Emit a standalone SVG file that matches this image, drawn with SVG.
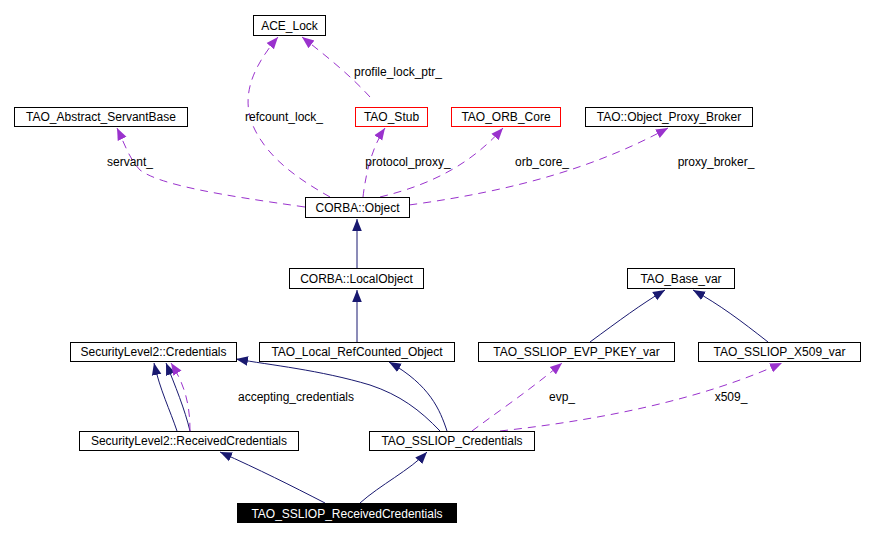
<svg xmlns="http://www.w3.org/2000/svg" width="873" height="537" viewBox="0 0 873 537">
<style>
.n rect{fill:#fff;stroke:#000;stroke-width:1}
.n.r rect{stroke:#f00}
text{font-family:"Liberation Sans",Arial,sans-serif;font-size:12px;text-anchor:middle}
.s{fill:none;stroke:#191970;stroke-width:1}
.d{fill:none;stroke:#9a32cd;stroke-width:1;stroke-dasharray:8,6}
</style>
<defs>
<marker id="ab" viewBox="0 0 10 10" refX="10" refY="5" markerWidth="12" markerHeight="12" markerUnits="userSpaceOnUse" orient="auto"><path d="M0,1 L10,5 L0,9 z" fill="#191970"/></marker>
<marker id="ap" viewBox="0 0 10 10" refX="10" refY="5" markerWidth="12" markerHeight="12" markerUnits="userSpaceOnUse" orient="auto"><path d="M0,1 L10,5 L0,9 z" fill="#9a32cd"/></marker>
</defs>
<rect width="873" height="537" fill="#fff"/>
<g id="edges">
<path class="d" marker-end="url(#ap)" d="M330,197 C300,180 270,160 255,130 C240,100 250,70 278,37"/>
<path class="d" marker-end="url(#ap)" d="M370,97 C350,75 325,55 302,37"/>
<path class="d" marker-end="url(#ap)" d="M305,207 C220,195 160,185 140,170 C130,160 125,145 117,128"/>
<path class="d" marker-end="url(#ap)" d="M363,197 C365,180 370,150 385,128"/>
<path class="d" marker-end="url(#ap)" d="M380,197 C430,185 470,165 503,128"/>
<path class="d" marker-end="url(#ap)" d="M409,205 C520,190 600,165 668,128"/>
<path class="s" marker-end="url(#ab)" d="M357,268 L357,219"/>
<path class="s" marker-end="url(#ab)" d="M357,342 L357,290"/>
<path class="s" marker-end="url(#ab)" d="M177,431 C170,410 160,390 154,363"/>
<path class="s" marker-end="url(#ab)" d="M190,431 C185,410 175,385 166,363"/>
<path class="d" marker-end="url(#ap)" d="M190,431 C190,405 185,385 171,363"/>
<path class="s" marker-end="url(#ab)" d="M440,431 C420,410 400,395 370,385 C320,370 270,365 236,359"/>
<path class="s" marker-end="url(#ab)" d="M447,431 C440,410 430,385 389,362"/>
<path class="d" marker-end="url(#ap)" d="M472,431 C500,410 530,390 562,363"/>
<path class="d" marker-end="url(#ap)" d="M500,431 C600,420 700,400 782,363"/>
<path class="s" marker-end="url(#ab)" d="M590,342 C620,320 640,305 665,290"/>
<path class="s" marker-end="url(#ab)" d="M768,342 C740,320 720,305 693,290"/>
<path class="s" marker-end="url(#ab)" d="M325,503 C290,485 260,470 220,452"/>
<path class="s" marker-end="url(#ab)" d="M360,503 C380,485 410,470 427,452"/>
</g>
<g fill="#000">
<text x="398" y="76">profile_lock_ptr_</text>
<text x="284" y="121">refcount_lock_</text>
<text x="130" y="166">servant_</text>
<text x="408" y="166">protocol_proxy_</text>
<text x="542" y="166">orb_core_</text>
<text x="716" y="166">proxy_broker_</text>
<text x="296" y="401">accepting_credentials</text>
<text x="562" y="401">evp_</text>
<text x="731" y="401">x509_</text>
</g>
<g id="ACE_Lock" class="n"><rect x="253.5" y="15.5" width="72" height="20"/><text x="289.5" y="30">ACE_Lock</text></g>
<g id="TAO_Abstract_ServantBase" class="n"><rect x="14.5" y="107.5" width="173" height="19"/><text x="101" y="121">TAO_Abstract_ServantBase</text></g>
<g id="TAO_Stub" class="n r"><rect x="355.5" y="107.5" width="72" height="19"/><text x="391.5" y="121">TAO_Stub</text></g>
<g id="TAO_ORB_Core" class="n r"><rect x="451.5" y="107.5" width="109" height="19"/><text x="506" y="121">TAO_ORB_Core</text></g>
<g id="Object_Proxy_Broker" class="n"><rect x="585.5" y="107.5" width="167" height="19"/><text x="669" y="121">TAO::Object_Proxy_Broker</text></g>
<g id="CORBA_Object" class="n"><rect x="305.5" y="197.5" width="104" height="20"/><text x="357.5" y="212">CORBA::Object</text></g>
<g id="CORBA_LocalObject" class="n"><rect x="289.5" y="268.5" width="134" height="20"/><text x="356.5" y="283">CORBA::LocalObject</text></g>
<g id="TAO_Base_var" class="n"><rect x="627.5" y="268.5" width="107" height="20"/><text x="681" y="283">TAO_Base_var</text></g>
<g id="SL2_Credentials" class="n"><rect x="70.5" y="342.5" width="166" height="19"/><text x="153.5" y="356">SecurityLevel2::Credentials</text></g>
<g id="TAO_Local_RefCounted_Object" class="n"><rect x="259.5" y="342.5" width="195" height="19"/><text x="357" y="356">TAO_Local_RefCounted_Object</text></g>
<g id="TAO_SSLIOP_EVP_PKEY_var" class="n"><rect x="478.5" y="342.5" width="196" height="19"/><text x="576.5" y="356">TAO_SSLIOP_EVP_PKEY_var</text></g>
<g id="TAO_SSLIOP_X509_var" class="n"><rect x="698.5" y="342.5" width="162" height="19"/><text x="779.5" y="356">TAO_SSLIOP_X509_var</text></g>
<g id="SL2_ReceivedCredentials" class="n"><rect x="79.5" y="431.5" width="219" height="19"/><text x="189" y="445">SecurityLevel2::ReceivedCredentials</text></g>
<g id="TAO_SSLIOP_Credentials" class="n"><rect x="369.5" y="431.5" width="165" height="19"/><text x="452" y="445">TAO_SSLIOP_Credentials</text></g>
<g id="TAO_SSLIOP_ReceivedCredentials"><rect x="237" y="503" width="220" height="20" fill="#000"/><text x="347" y="518" fill="#fff">TAO_SSLIOP_ReceivedCredentials</text></g>
</svg>
